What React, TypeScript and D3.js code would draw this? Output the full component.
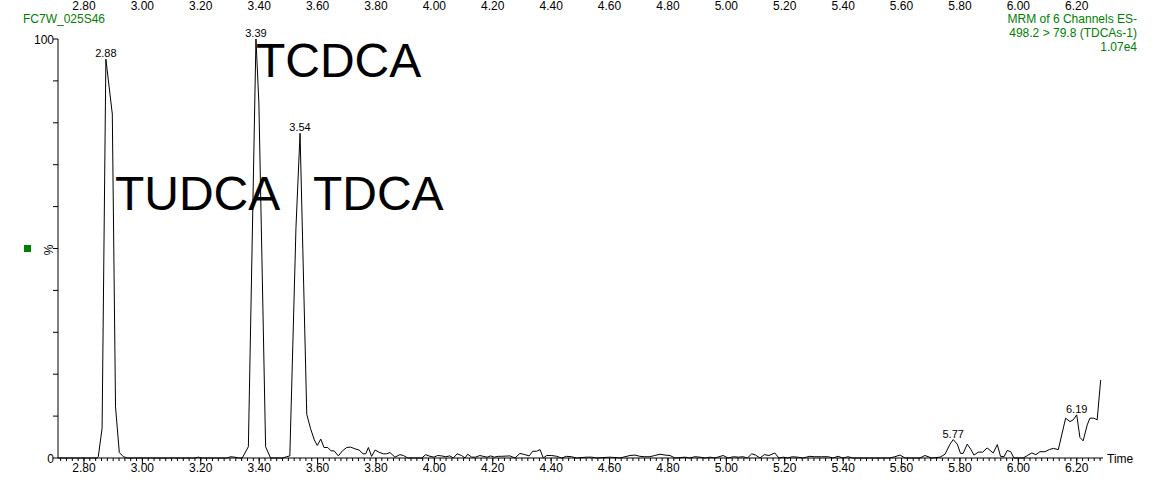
import React from 'react'
import * as d3 from 'd3'

// MRM trace: retention time (min) and relative abundance (%)
const rtMin = [
  2.711, 2.845, 2.849, 2.862, 2.875, 2.897, 2.908, 2.921, 2.935, 2.95,
  3.18, 3.192, 3.204, 3.29, 3.302, 3.316, 3.33,
  3.342, 3.363, 3.389, 3.399, 3.422, 3.439, 3.48, 3.494,
  3.505, 3.526, 3.54, 3.563, 3.576, 3.589, 3.599, 3.611, 3.622, 3.635,
  3.646, 3.657, 3.671, 3.685, 3.7, 3.713, 3.728, 3.742, 3.756, 3.765,
  3.774, 3.785, 3.797, 3.81, 3.825, 3.837, 3.848, 3.865, 3.882, 3.894,
  3.909, 3.957, 3.97, 3.985, 3.999, 4.011, 4.025, 4.039, 4.053, 4.065,
  4.078, 4.093, 4.105, 4.114, 4.128, 4.141, 4.156, 4.167, 4.181, 4.193,
  4.205, 4.219, 4.23, 4.259, 4.276, 4.293, 4.31, 4.325, 4.337, 4.35,
  4.362, 4.373, 4.385, 4.402, 4.419, 4.436, 4.453, 4.47, 4.487, 4.521,
  4.539, 4.556, 4.601, 4.636, 4.67, 4.687, 4.704, 4.721, 4.738, 4.755,
  4.773, 4.79, 4.807, 4.824, 4.858, 4.875, 4.892, 4.91, 4.927, 4.944,
  4.961, 4.989, 5.006, 5.024, 5.041, 5.058, 5.072, 5.087, 5.1, 5.115,
  5.13, 5.146, 5.166, 5.18, 5.195, 5.21, 5.226, 5.244, 5.262, 5.286,
  5.303, 5.326, 5.349, 5.365, 5.383, 5.399, 5.417, 5.433, 5.56, 5.577,
  5.595, 5.612, 5.663, 5.68, 5.703, 5.732, 5.749, 5.766, 5.777, 5.791,
  5.802, 5.811, 5.825, 5.837, 5.848, 5.863, 5.878, 5.893, 5.914, 5.928,
  5.939, 5.951, 5.962, 5.974, 5.985, 6.017, 6.031, 6.046, 6.06, 6.074,
  6.091, 6.106, 6.12, 6.137, 6.162, 6.177, 6.188, 6.2, 6.211, 6.222,
  6.236, 6.245, 6.259, 6.27, 6.282,
]
const relAbund = [
  0, 0, 0.3, 7.1, 95.2, 82.1, 12.2, 1.3, 0.3, 0,
  0, 0.2, 0, 0, 0.3, 0.2, 0,
  0, 2.7, 100, 84.7, 2.7, 0, 0, 0.3,
  0.5, 55, 77.5, 10.4, 7.0, 4.3, 3.0, 4.5, 2.5, 2.5,
  1.7, 1.7, 0.5, 1.7, 2.5, 2.6, 2.2, 1.9, 1.0, 1.0,
  2.5, 0.4, 1.9, 1.4, 1.0, 1.0, 1.3, 0.2, 0.8, 0.6,
  0, 0, 0.8, 0.4, 0.2, 0.6, 0.5, 0.3, 0.5, 0,
  1.0, 0.6, 0, 0.9, 0.2, 0.2, 0.6, 0.4, 0.2, 0.5,
  0.2, 0.4, 0.4, 0.5, 0, 1.1, 0.8, 0.5, 1.6, 1.6,
  2.0, 0, 0.6, 0.6, 0.4, 0, 0.4, 0.3, 0, 0.2,
  0.2, 0, 0.2, 0, 0.6, 0.7, 0.4, 0.3, 0.3, 0.6,
  0.9, 0.7, 0.6, 0, 0.2, 0, 0.3, 0.2, 0, 0.2,
  0, 0.6, 0, 0.3, 0.2, 0.3, 0, 1.0, 0.7, 0,
  0.8, 0.6, 1.2, 0, 0.2, 0, 0.3, 0.2, 0, 0.4,
  0.3, 0.3, 0.3, 0, 0.4, 0, 0.3, 0, 0, 0.3,
  0.7, 0, 0, 0.6, 0, 0.2, 0.9, 3.3, 4.4, 3.3,
  1.1, 1.1, 3.3, 2.1, 0.7, 1.4, 1.4, 2.4, 1.2, 3.2,
  0.4, 0.3, 1.8, 1.5, 0, 0, 0.6, 1.2, 0.8, 1.5,
  1.5, 2.0, 2.3, 2.0, 9.5, 8.7, 9.1, 10.3, 4.9, 4.1,
  7.9, 9.5, 9.5, 9.1, 18.6,
]

const peakLabels = ['2.88', '3.39', '3.54', '5.77', '6.19']
const compounds = ['TCDCA', 'TUDCA', 'TDCA']
const tickLabels = ['2.80', '3.00', '3.20', '3.40', '3.60', '3.80', '4.00', '4.20', '4.40',
  '4.60', '4.80', '5.00', '5.20', '5.40', '5.60', '5.80', '6.00', '6.20']

const sampleName = 'FC7W_025S46'
const channelInfo = ['MRM of 6 Channels ES-', '498.2 > 79.8 (TDCAs-1)', '1.07e4']

const W = 1163, H = 480
const green = '#008000'
const font = '"Liberation Sans", Arial, sans-serif'

export default function App() {
  const x = d3.scaleLinear().domain([2.711, 6.29]).range([58, 1103])
  const y = d3.scaleLinear().domain([0, 100]).range([458, 39])

  const pts: [number, number][] = rtMin.map((t, i) => [t, relAbund[i]])
  const line = d3.line<[number, number]>()
    .x(d => x(d[0]))
    .y(d => y(d[1]))

  // apex of each labelled peak = highest point within +-0.015 min of the label
  const apexes = peakLabels.map(lbl => {
    const t = +lbl
    const near = pts.filter(p => Math.abs(p[0] - t) <= 0.015)
    const best = near.reduce((a, b) => (b[1] > a[1] ? b : a))
    return { lbl, p: best }
  })

  const minorTicks = d3.range(136, 315).map(k => k / 50) // every 0.02 min
  const yTicks = d3.range(0, 101, 10)

  // compound names placed in data coordinates
  const compoundPos: Record<string, [number, number]> = {
    TCDCA: [3.389, 90.9],
    TUDCA: [2.906, 59.2],
    TDCA: [3.584, 59.2],
  }

  return (
    <svg width={W} height={H} style={{ position: 'absolute', left: 0, top: 0, background: '#fff' }}
      fontFamily={font}>
      {/* header */}
      <text x={23} y={23} fontSize={12} fill={green}>{sampleName}</text>
      {channelInfo.map((s, i) => (
        <text key={s} x={1137} y={23 + i * 14} fontSize={12} fill={green} textAnchor="end">{s}</text>
      ))}

      {/* top time labels */}
      {tickLabels.map(l => (
        <text key={'t' + l} x={x(+l)} y={9.5} fontSize={12} textAnchor="middle">{l}</text>
      ))}

      {/* y axis */}
      <line x1={58} x2={58} y1={y(100)} y2={y(0)} stroke="#000" />
      {yTicks.map(v => (
        <line key={'y' + v} x1={53} x2={58} y1={y(v)} y2={y(v)} stroke="#000" />
      ))}
      <text x={54} y={y(100) + 4.5} fontSize={12} textAnchor="end">100</text>
      <text x={54} y={y(0) + 4.5} fontSize={12} textAnchor="end">0</text>
      <text transform={`translate(${53},${250}) rotate(-90)`} fontSize={12} textAnchor="middle">%</text>
      <rect x={24} y={245} width={7} height={7} fill={green} />

      {/* x axis */}
      <line x1={58} x2={1103} y1={y(0)} y2={y(0)} stroke="#000" />
      {minorTicks.map(t => (
        <line key={'m' + t} x1={x(t)} x2={x(t)} y1={y(0)} y2={y(0) + 3} stroke="#000" />
      ))}
      {tickLabels.map(l => (
        <line key={'M' + l} x1={x(+l)} x2={x(+l)} y1={y(0)} y2={y(0) + 6} stroke="#000" />
      ))}
      {tickLabels.map(l => (
        <text key={'b' + l} x={x(+l)} y={471.5} fontSize={12} textAnchor="middle">{l}</text>
      ))}
      <text x={1107} y={462.5} fontSize={12}>Time</text>

      {/* trace */}
      <path d={line(pts) || ''} fill="none" stroke="#000" strokeWidth={1} />

      {apexes.map(a => (
        <text key={a.lbl} x={x(a.p[0])} y={y(a.p[1]) - 2} fontSize={11} textAnchor="middle">{a.lbl}</text>
      ))}

      {compounds.map(c => (
        <text key={c} x={x(compoundPos[c][0])} y={y(compoundPos[c][1])} fontSize={48}>{c}</text>
      ))}
    </svg>
  )
}
